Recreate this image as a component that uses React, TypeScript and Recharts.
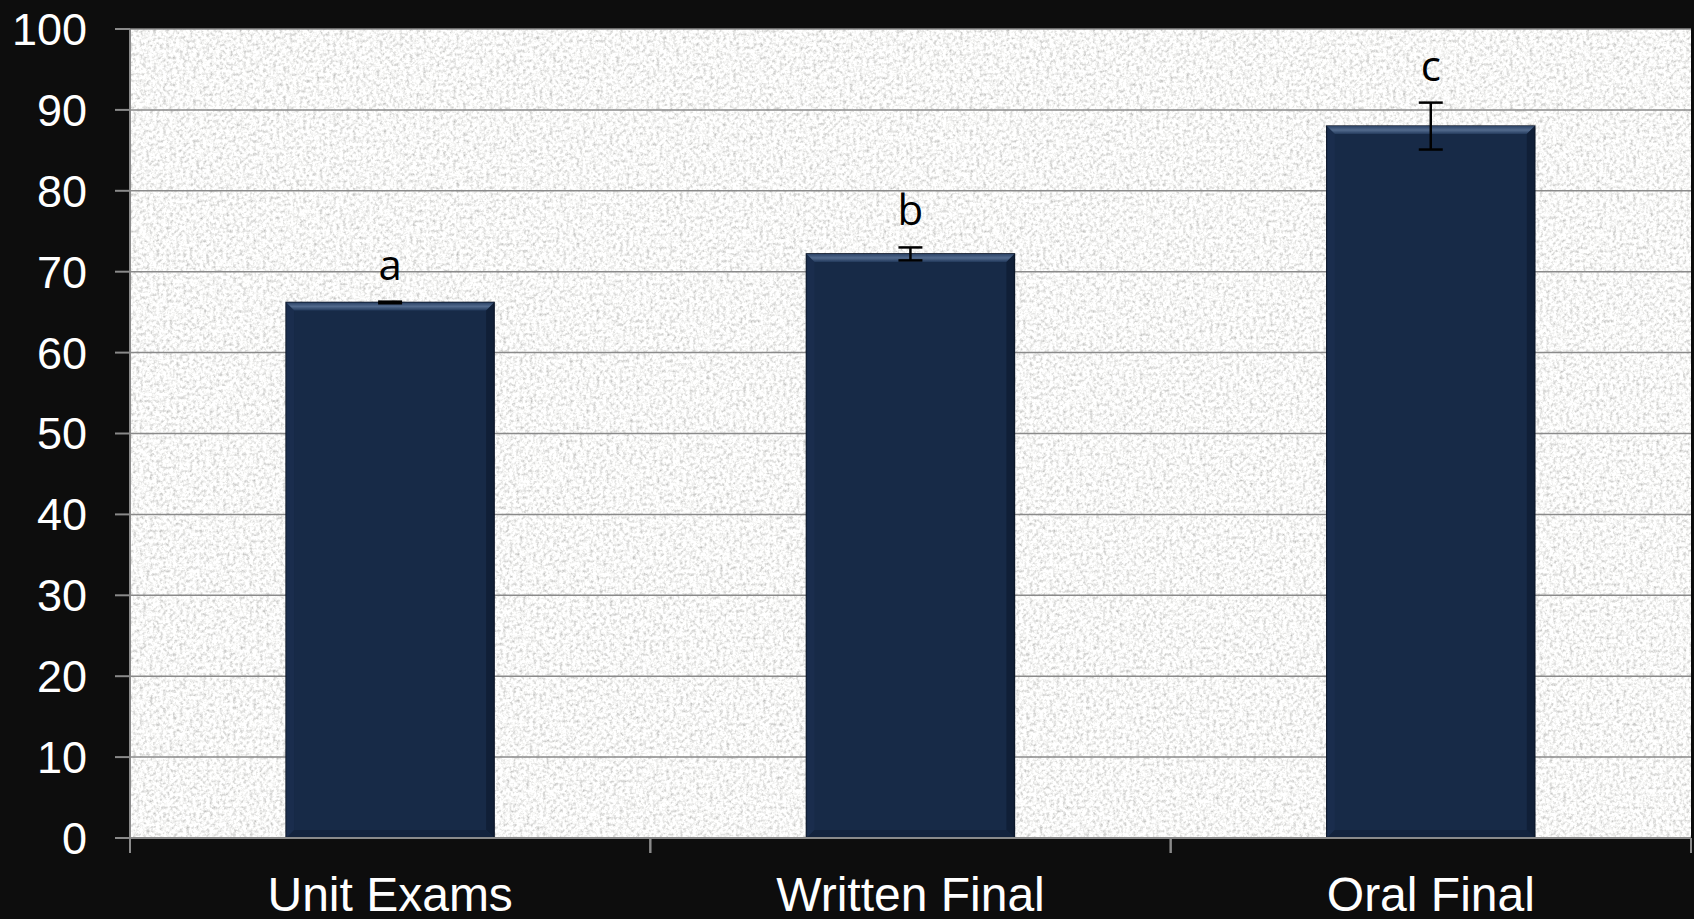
import { BarChart, Bar, XAxis, YAxis, CartesianGrid, ErrorBar, LabelList } from "recharts";

const categories = ["Unit Exams", "Written Final", "Oral Final"];
const means = [66.2, 72.2, 88];
const errors = [0.1, 0.8, 2.9];
const letters = ["a", "b", "c"];
const yTicks = [0, 10, 20, 30, 40, 50, 60, 70, 80, 90, 100];

const data = categories.map((name, i) => ({
  name,
  value: means[i],
  err: errors[i],
  letter: letters[i],
}));

const BevelBar = (props: any) => {
  const { x, y, width, height } = props;
  if (!height || height <= 0) return null;
  const b = 8;
  return (
    <g>
      <rect x={x} y={y} width={width} height={height} fill="#172a47" stroke="#0b1628" strokeWidth={1.5} />
      <polygon
        points={`${x},${y} ${x + width},${y} ${x + width - b},${y + b} ${x + b},${y + b}`}
        fill="url(#bevelTop)"
      />
      <polygon
        points={`${x},${y} ${x + b},${y + b} ${x + b},${y + height - b} ${x},${y + height}`}
        fill="#1c3152"
        opacity={0.6}
      />
      <polygon
        points={`${x + width},${y} ${x + width - b},${y + b} ${x + width - b},${y + height - b} ${x + width},${y + height}`}
        fill="#0e1b30"
        opacity={0.7}
      />
      <polygon
        points={`${x},${y + height} ${x + b},${y + height - b} ${x + width - b},${y + height - b} ${x + width},${y + height}`}
        fill="#13233d"
      />
    </g>
  );
};

const renderLetter = (props: any) => {
  const { x, y, width, height, value, index } = props;
  const v = means[index];
  const errPx = v ? (errors[index] * height) / v : 0;
  return (
    <text
      x={x + width / 2}
      y={y - errPx - 22}
      textAnchor="middle"
      fill="#000"
      fontSize={42}
      fontFamily="'Open Sans', 'DejaVu Sans', sans-serif"
    >
      {value}
    </text>
  );
};

const CategoryTick = (props: any) => {
  const { x, y, payload } = props;
  const half = payload && payload.offset ? payload.offset : 0;
  return (
    <g>
      <line x1={x - half} y1={y} x2={x - half} y2={y + 15} stroke="#8a8a8a" strokeWidth={2} />
      <line x1={x + half} y1={y} x2={x + half} y2={y + 15} stroke="#8a8a8a" strokeWidth={2} />
      <text
        x={x}
        y={y + 73}
        textAnchor="middle"
        fill="#ffffff"
        fontSize={48}
        fontFamily="'Liberation Sans', Arial, sans-serif"
      >
        {payload.value}
      </text>
    </g>
  );
};

export default function App() {
  return (
    <div style={{ width: 1694, height: 919, background: "#0d0d0d" }}>
      <style>{`body{margin:0;background:#0d0d0d;}`}</style>
      <BarChart
        width={1694}
        height={919}
        data={data}
        margin={{ top: 29, right: 3, left: 0, bottom: 0 }}
        barCategoryGap="30%"
      >
        <defs>
          <filter id="speckle" x="0" y="0" width="100%" height="100%">
            <feTurbulence type="fractalNoise" baseFrequency="0.3" numOctaves={4} seed={4} />
            <feColorMatrix
              type="matrix"
              values="1.0 0 0 0 0.43  1.0 0 0 0 0.43  1.0 0 0 0 0.42  0 0 0 0 1"
            />
          </filter>
          <pattern id="paper" patternUnits="userSpaceOnUse" x={0} y={0} width={1694} height={919}>
            <rect x={0} y={0} width={1694} height={919} filter="url(#speckle)" />
          </pattern>
          <linearGradient id="bevelTop" x1="0" y1="0" x2="0" y2="1">
            <stop offset="0%" stopColor="#2c4366" />
            <stop offset="50%" stopColor="#526a8d" />
            <stop offset="100%" stopColor="#233a5c" />
          </linearGradient>
        </defs>
        <CartesianGrid
          vertical={false}
          stroke="#8a8a8a"
          strokeWidth={1.5}
          fill="url(#paper)"
          fillOpacity={1}
        />
        <XAxis
          dataKey="name"
          height={81}
          axisLine={{ stroke: "#8a8a8a", strokeWidth: 2 }}
          tickLine={false}
          tickSize={0}
          tickMargin={0}
          tick={<CategoryTick />}
          interval={0}
        />
        <YAxis
          type="number"
          domain={[0, 100]}
          ticks={yTicks}
          width={130}
          axisLine={{ stroke: "#8a8a8a", strokeWidth: 2 }}
          tickLine={{ stroke: "#8a8a8a", strokeWidth: 2 }}
          tickSize={15}
          tickMargin={28}
          tick={{ fill: "#ffffff", fontSize: 45, fontFamily: "'Liberation Sans', Arial, sans-serif" }}
          interval={0}
        />
        <Bar dataKey="value" shape={<BevelBar />} isAnimationActive={false}>
          <ErrorBar dataKey="err" width={12} strokeWidth={2.5} stroke="#000" direction="y" isAnimationActive={false} />
          <LabelList dataKey="letter" content={renderLetter} />
        </Bar>
      </BarChart>
    </div>
  );
}
